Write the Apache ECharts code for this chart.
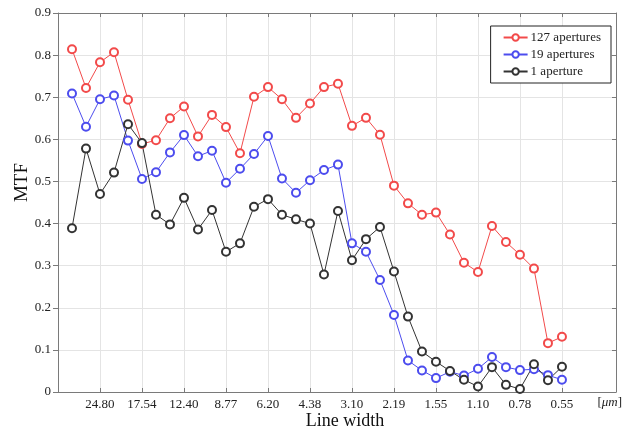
<!DOCTYPE html>
<html>
<head>
<meta charset="utf-8">
<script src="https://cdn.jsdelivr.net/npm/echarts@6/dist/echarts.min.js"></script>
<style>
    html, body { margin: 0; padding: 0; background: #fff; }
    #mtfContainer { width: 626px; height: 430px; }
</style>
</head>
<body>
<div id="mtfContainer"></div>
<script>
// line widths shown under the axis, one label every third sample
const widthLabels = ['24.80', '17.54', '12.40', '8.77', '6.20', '4.38', '3.10', '2.19', '1.55', '1.10', '0.78', '0.55'];
const labelSamples = [2, 5, 8, 11, 14, 17, 20, 23, 26, 29, 32, 35];

const mtf127 = [0.814, 0.722, 0.783, 0.807, 0.694, 0.589, 0.598, 0.650, 0.678, 0.607, 0.658, 0.629, 0.567, 0.701, 0.724, 0.695, 0.651, 0.685, 0.724, 0.732,
    0.632, 0.651, 0.611, 0.490, 0.448, 0.421, 0.426, 0.374, 0.307, 0.285, 0.394, 0.356, 0.326, 0.293, 0.116, 0.131];
const mtf19 = [0.709, 0.630, 0.695, 0.704, 0.597, 0.506, 0.522, 0.569, 0.610, 0.560, 0.573, 0.497, 0.530, 0.565, 0.608, 0.507, 0.473, 0.503, 0.527, 0.540,
    0.353, 0.333, 0.266, 0.183, 0.075, 0.051, 0.033, 0.048, 0.039, 0.055, 0.083, 0.059, 0.052, 0.054, 0.040, 0.029];
const mtf1 = [0.389, 0.578, 0.470, 0.521, 0.636, 0.591, 0.421, 0.398, 0.461, 0.386, 0.432, 0.333, 0.353, 0.440, 0.458, 0.421, 0.410, 0.400, 0.279, 0.430,
    0.313, 0.363, 0.392, 0.286, 0.179, 0.096, 0.072, 0.050, 0.029, 0.013, 0.059, 0.017, 0.007, 0.066, 0.028, 0.060];

const serif = 'Liberation Serif';
const tickSamples = [-1].concat(labelSamples);
const frameColor = '#7a7a7a';

function toPoints(values) {
    return values.map((v, i) => [i, v]);
}

function makeSeries(name, values, color) {
    return {
        name: name,
        type: 'line',
        data: toPoints(values),
        symbol: 'emptyCircle',
        symbolSize: 8,
        showAllSymbol: true,
        lineStyle: {color: color, width: 1},
        itemStyle: {color: color, borderColor: color, borderWidth: 1},
        emphasis: {disabled: true},
        animation: false
    };
}

const mtfChart = echarts.init(document.getElementById('mtfContainer'), null, {renderer: 'canvas'});
const mtfOption = {
    textStyle: {fontFamily: serif},
    grid: {left: 58, right: 10, top: 13, bottom: 38, containLabel: false, outerBoundsMode: 'none'},
    legend: {
        orient: 'vertical',
        right: 15,
        top: 26,
        padding: [5, 10, 5, 12],
        itemWidth: 24,
        itemHeight: 8,
        itemGap: 4,
        borderColor: '#222',
        borderWidth: 1,
        backgroundColor: '#fff',
        textStyle: {fontFamily: serif, fontSize: 13, color: '#222', padding: [0, 0, 0, -2]},
        data: ['127 apertures', '19 apertures', '1 aperture']
    },
    xAxis: [
        {
            type: 'value',
            min: -1,
            max: 38.86,
            name: 'Line width',
            nameLocation: 'middle',
            nameGap: 20,
            nameMoveOverlap: false,
            nameTextStyle: {fontFamily: serif, fontSize: 18, color: '#111', padding: [0, 0, 0, 16]},
            axisLine: {show: true, onZero: false, lineStyle: {color: frameColor}},
            axisTick: {show: true, inside: true, length: 4, customValues: tickSamples, lineStyle: {color: frameColor}},
            splitLine: {show: true, lineStyle: {color: '#e4e4e4'}},
            axisLabel: {
                customValues: labelSamples,
                margin: 6,
                fontFamily: serif,
                fontSize: 13,
                color: '#222',
                formatter: function (value) {
                    return widthLabels[labelSamples.indexOf(value)];
                }
            }
        },
        {
            type: 'value',
            position: 'top',
            min: -1,
            max: 38.86,
            axisLine: {show: true, onZero: false, lineStyle: {color: frameColor}},
            axisTick: {show: true, inside: true, length: 4, customValues: tickSamples, lineStyle: {color: frameColor}},
            splitLine: {show: false},
            axisLabel: {show: false}
        }
    ],
    yAxis: [
        {
            type: 'value',
            min: 0,
            max: 0.9,
            interval: 0.1,
            name: 'MTF',
            nameLocation: 'middle',
            nameGap: 26,
            nameMoveOverlap: false,
            nameTextStyle: {fontFamily: serif, fontSize: 19, color: '#111', padding: [0, 0, 0, 40]},
            axisLine: {show: true, onZero: false, lineStyle: {color: frameColor}},
            axisTick: {show: true, length: 5, lineStyle: {color: frameColor}},
            splitLine: {show: true, lineStyle: {color: '#e4e4e4'}},
            axisLabel: {margin: 7, fontFamily: serif, fontSize: 13, color: '#222'}
        },
        {
            type: 'value',
            position: 'right',
            min: 0,
            max: 0.9,
            interval: 0.1,
            axisLine: {show: true, onZero: false, lineStyle: {color: frameColor}},
            axisTick: {show: true, inside: true, length: 4, lineStyle: {color: frameColor}},
            splitLine: {show: false},
            axisLabel: {show: false}
        }
    ],
    graphic: [
        {
            type: 'text',
            right: 4,
            top: 396,
            style: {
                text: '[{i|μm}]',
                fontFamily: serif,
                fontSize: 13,
                fill: '#222',
                rich: {i: {fontFamily: serif, fontSize: 13, fontStyle: 'italic', fill: '#222'}}
            }
        }
    ],
    series: [
        makeSeries('127 apertures', mtf127, '#f24a4a'),
        makeSeries('19 apertures', mtf19, '#4c4cee'),
        makeSeries('1 aperture', mtf1, '#333333')
    ]
};
mtfChart.setOption(mtfOption);
</script>
</body>
</html>
